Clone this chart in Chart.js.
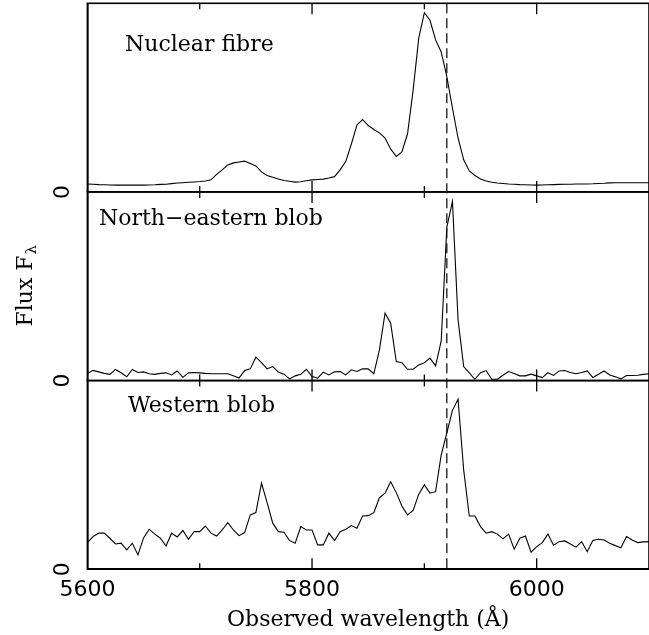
<!DOCTYPE html>
<html>
<head>
<meta charset="utf-8">
<title>Flux spectra</title>
<script src="https://cdn.jsdelivr.net/npm/chart.js@4.4.1/dist/chart.umd.min.js"></script>
<style>
  html, body { margin: 0; padding: 0; background: #fff; }
  #wrap { width: 649px; height: 635px; }
</style>
</head>
<body>
<div id="wrap"><canvas id="chSpec"></canvas></div>
<script>
// observed wavelength grid (Angstrom), one pixel every 5 A
var wavelength = [
  5600, 5605, 5610, 5615, 5620, 5625, 5630, 5635, 5640, 5645,
  5650, 5655, 5660, 5665, 5670, 5675, 5680, 5685, 5690, 5695,
  5700, 5705, 5710, 5715, 5720, 5725, 5730, 5735, 5740, 5745,
  5750, 5755, 5760, 5765, 5770, 5775, 5780, 5785, 5790, 5795,
  5800, 5805, 5810, 5815, 5820, 5825, 5830, 5835, 5840, 5845,
  5850, 5855, 5860, 5865, 5870, 5875, 5880, 5885, 5890, 5895,
  5900, 5905, 5910, 5915, 5920, 5925, 5930, 5935, 5940, 5945,
  5950, 5955, 5960, 5965, 5970, 5975, 5980, 5985, 5990, 5995,
  6000, 6005, 6010, 6015, 6020, 6025, 6030, 6035, 6040, 6045,
  6050, 6055, 6060, 6065, 6070, 6075, 6080, 6085, 6090, 6095,
  6100
];

// top panel - nuclear fibre (arbitrary units, panel top = 100)
var fluxNuclear = [
  4.2, 4.1, 3.9, 3.8, 3.7, 3.6, 3.6, 3.6, 3.6, 3.6,
  3.6, 3.7, 3.8, 4.0, 4.1, 4.4, 4.7, 4.9, 5.1, 5.3,
  5.5, 5.8, 6.4, 9.3, 11.7, 14.3, 15.4, 15.9, 16.3, 15.1,
  13.8, 10.6, 8.7, 7.8, 6.9, 6.1, 5.7, 5.2, 5.4, 5.9,
  6.4, 6.6, 6.8, 7.4, 8.1, 11.7, 16.1, 25.4, 35.5, 38.4,
  35.2, 33.1, 31.3, 28.6, 22.8, 18.8, 21.2, 30.7, 54.0, 81.5,
  95.0, 91.0, 80.6, 74.2, 61.1, 44.5, 28.6, 17.0, 11.1, 8.7,
  6.9, 5.8, 5.1, 4.7, 4.5, 4.2, 4.1, 3.9, 3.8, 3.7,
  3.6, 3.7, 3.8, 3.9, 4.0, 4.1, 4.1, 4.2, 4.2, 4.2,
  4.3, 4.5, 4.6, 4.8, 4.9, 4.9, 4.9, 4.9, 4.9, 4.9,
  4.9
];

// middle panel - north-eastern blob
var fluxNorthEast = [
  3.8, 5.4, 4.6, 3.8, 3.3, 5.9, 4.1, 2.0, 5.9, 4.3,
  4.6, 3.6, 3.3, 3.8, 4.1, 3.0, 5.1, 1.7, 4.1, 4.3,
  4.1, 3.8, 3.6, 3.6, 3.6, 3.6, 2.5, 1.3, 5.3, 6.2,
  12.4, 9.5, 6.2, 7.4, 4.5, 3.4, 0.9, 2.5, 3.4, 6.0,
  2.1, 1.3, 4.5, 3.0, 4.6, 4.8, 3.0, 5.7, 4.8, 6.2,
  6.2, 3.6, 16.3, 35.7, 30.4, 10.1, 9.5, 6.0, 6.0, 8.3,
  9.5, 11.9, 7.8, 21.0, 81.2, 94.9, 32.2, 7.4, 4.1, 0.7,
  4.2, 5.3, 0.7, 0.7, 2.8, 4.8, 3.8, 2.5, 2.5, 3.4,
  2.5, 1.6, 4.2, 2.7, 5.1, 5.3, 4.3, 3.6, 4.3, 5.1,
  1.6, 3.3, 5.1, 3.0, 2.0, 0.9, 2.7, 2.7, 2.8, 3.3,
  3.6
];

// bottom panel - western blob
var fluxWestern = [
  14.1, 17.3, 19.1, 19.1, 16.4, 13.4, 13.8, 10.2, 13.8, 7.6,
  16.6, 21.2, 18.6, 16.4, 12.3, 19.1, 17.1, 20.5, 15.9, 19.9,
  19.9, 22.9, 19.1, 17.6, 20.8, 24.7, 20.8, 17.8, 19.4, 28.8,
  30.0, 45.6, 35.3, 24.4, 19.9, 19.6, 15.2, 13.8, 22.6, 20.8,
  20.8, 12.9, 12.9, 19.1, 15.2, 19.9, 21.2, 23.1, 21.7, 28.2,
  28.4, 30.0, 37.9, 40.3, 46.4, 40.6, 33.5, 28.8, 31.1, 39.8,
  44.7, 40.3, 41.1, 60.6, 72.2, 84.2, 90.1, 52.6, 28.2, 28.2,
  22.6, 19.1, 19.9, 18.6, 16.1, 18.6, 10.6, 16.4, 17.6, 9.0,
  12.0, 14.1, 18.6, 12.7, 14.6, 15.0, 13.4, 11.7, 14.6, 9.3,
  15.2, 15.9, 15.5, 13.8, 12.5, 11.4, 17.3, 15.5, 14.1, 14.5,
  14.6
];

var panelNames = ["Nuclear fibre", "North\u2212eastern blob", "Western blob"];
var xLabels = [5600, 5800, 6000];
var xTickMarks = [5700, 5800, 5900, 6000];
var yLabels = [0];
var markerWavelength = 5920;

Chart.defaults.font.family = "'DejaVu Sans', sans-serif";
Chart.defaults.color = "#000";

var serif = "'DejaVu Serif', serif";

function zeroTicks(scale) {
  scale.ticks = yLabels.map(function (v) { return { value: v }; });
}
function noEdgePadding(scale) {
  scale.paddingTop = 0;
  scale.paddingBottom = 0;
}

// y axes: the last one defined ends up on top of the stack
function panelAxis() {
  return {
    type: "linear",
    position: "left",
    stack: "panels",
    stackWeight: 1,
    min: 0,
    max: 100,
    grid: { display: false, drawTicks: false },
    border: { display: true, color: "#000", width: 1.6 },
    afterBuildTicks: zeroTicks,
    afterFit: noEdgePadding,
    ticks: {
      minRotation: 90,
      maxRotation: 90,
      crossAlign: "center",
      padding: 17,
      color: "#000",
      font: { size: 22 },
    },
  };
}

// frames, inward ticks, marker line, panel names, y title
var panelPlugin = {
  id: "panels",
  afterDraw: function (chart) {
    var ctx = chart.ctx;
    var area = chart.chartArea;
    var xs = chart.scales.x;
    var ids = ["yN", "yNE", "yW"];
    var namePos = [[125, 48], [99, 33], [128, 31]];

    ctx.save();
    ctx.strokeStyle = "#000";
    ids.forEach(function (id, i) {
      var s = chart.scales[id];
      ctx.lineWidth = 1.6;
      ctx.strokeRect(area.left, s.top, area.right - area.left, s.bottom - s.top);
      ctx.lineWidth = 1.3;
      xTickMarks.forEach(function (v) {
        var px = xs.getPixelForValue(v);
        var len = v % 200 === 0 ? 11 : 6;
        ctx.beginPath();
        ctx.moveTo(px, s.top);
        ctx.lineTo(px, s.top + len);
        ctx.moveTo(px, s.bottom);
        ctx.lineTo(px, s.bottom - len);
        ctx.stroke();
      });

      ctx.fillStyle = "#000";
      ctx.font = "22px " + serif;
      ctx.textAlign = "left";
      ctx.textBaseline = "alphabetic";
      ctx.fillText(panelNames[i], namePos[i][0], s.top + namePos[i][1]);
    });

    // dashed marker
    var mx = xs.getPixelForValue(markerWavelength);
    ctx.lineWidth = 1.2;
    ctx.setLineDash([10, 5]);
    ctx.beginPath();
    ctx.moveTo(mx, area.top);
    ctx.lineTo(mx, area.bottom);
    ctx.stroke();
    ctx.setLineDash([]);

    // y title with subscript lambda
    ctx.translate(32, (area.top + area.bottom) / 2);
    ctx.rotate(-Math.PI / 2);
    ctx.font = "22px " + serif;
    var w1 = ctx.measureText("Flux F").width;
    ctx.font = "15px " + serif;
    var w2 = ctx.measureText("\u03bb").width;
    var start = -(w1 + w2) / 2;
    ctx.font = "22px " + serif;
    ctx.fillText("Flux F", start, 0);
    ctx.font = "15px " + serif;
    ctx.fillText("\u03bb", start + w1 + 1, 4);
    ctx.restore();
  },
};

var chSpec = document.getElementById("chSpec");
new Chart(chSpec, {
  type: "line",
  data: {
    labels: wavelength,
    datasets: [
      { label: panelNames[2], data: fluxWestern, yAxisID: "yW" },
      { label: panelNames[1], data: fluxNorthEast, yAxisID: "yNE" },
      { label: panelNames[0], data: fluxNuclear, yAxisID: "yN" },
    ],
  },
  options: {
    responsive: true,
    maintainAspectRatio: false,
    animation: false,
    events: [],
    layout: { padding: { left: 27, right: -2, top: 3.3, bottom: 0 } },
    elements: {
      line: { borderColor: "#000", borderWidth: 1.1, tension: 0, fill: false },
      point: { radius: 0 },
    },
    plugins: { legend: { display: false }, tooltip: { enabled: false } },
    scales: {
      x: {
        type: "linear",
        position: "bottom",
        min: 5600,
        max: 6100,
        grid: { display: false, drawTicks: false },
        border: { display: true, color: "#000", width: 1.6 },
        afterBuildTicks: function (scale) {
          scale.ticks = xLabels.map(function (v) { return { value: v }; });
        },
        ticks: {
          padding: 8,
          maxRotation: 0,
          autoSkip: false,
          color: "#000",
          font: { size: 22 },
          callback: function (v) { return String(v); },
        },
        title: {
          display: true,
          text: "Observed wavelength (\u00c5)",
          color: "#000",
          font: { family: serif, size: 22 },
          padding: { top: -5, bottom: 2 },
        },
      },
      yW: panelAxis(),
      yNE: panelAxis(),
      yN: panelAxis(),
    },
  },
  plugins: [panelPlugin],
});
</script>
</body>
</html>
